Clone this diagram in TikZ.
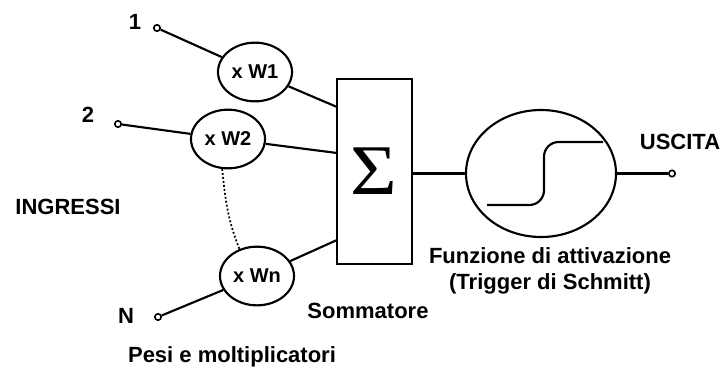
\documentclass[tikz,border=0pt]{standalone}
\usepackage{fontspec}
\setmainfont{Liberation Sans}
\newfontfamily\sigmafont{Liberation Serif}
\usetikzlibrary{shapes.geometric}
\tikzset{
  lbl/.style={font=\fontsize{16.5pt}{19.5pt}\selectfont\bfseries, inner sep=0pt, align=center},
  wlbl/.style={font=\fontsize{15pt}{18pt}\selectfont\bfseries},
  mult/.style={ellipse, draw, line width=1.6pt, minimum width=55.5pt, minimum height=44pt, inner sep=0pt, wlbl},
  term/.style={circle, draw, line width=1.2pt, fill=white, minimum size=4.8pt, inner sep=0pt},
  wire/.style={line width=1.6pt},
  sumbox/.style={rectangle, draw, line width=2pt, minimum width=56.25pt, minimum height=138.75pt, inner sep=0pt},
  actfun/.style={ellipse, draw, line width=1.6pt, minimum width=112.5pt, minimum height=95.25pt, inner sep=0pt}
}
\begin{document}
\begin{tikzpicture}[x=0.75pt, y=-0.75pt]
\useasboundingbox[fill=white] (0,0) rectangle (723,371);

% input terminals and their labels
\node[term] (t1) at (157,28) {};
\node[term] (t2) at (118,124) {};
\node[term] (tn) at (158,317) {};
\node[lbl] (l1) at (135,21.5) {1};
\node[lbl] (l2) at (88,114.5) {2};
\node[lbl] (ln) at (126,315.5) {N};
\node[lbl] (ingr) at (68,207) {INGRESSI};

% weight multipliers
\node[mult] (w1) at (255,72) {x W1};
\node[mult] (w2) at (228,139) {x W2};
\node[mult] (wn) at (257,276) {x Wn};

% summing block
\node[sumbox] (sum) at (374.5,171.5) {};
\node[inner sep=0pt] (sig) at (373.5,171.5) {\resizebox{35pt}{35pt}{\sigmafont Σ}};
\coordinate (s1) at (337,107);
\coordinate (s2) at (337,153);
\coordinate (sn) at (337,240);

% activation function
\node[actfun] (act) at (541,173.5) {};
\draw[line width=1.6pt, rounded corners=11pt] (487,205) -- (544,205) -- (544,142) -- (603,142);
\node[term] (out) at (672,173.5) {};
\node[lbl] (usc) at (680,142) {USCITA};

% connections
\draw[wire] (t1) -- (w1);
\draw[wire] (t2) -- (w2);
\draw[wire] (tn) -- (wn);
\draw[wire] (w1) -- (s1);
\draw[wire] (w2) -- (s2);
\draw[wire] (wn) -- (sn);
\draw[line width=1.3pt, dash pattern=on 1.4pt off 1.6pt] (w2.259) to[out=-84, in=112] (wn.123);
\draw[wire] (sum.east |- act.center) -- (act.west);
\draw[wire] (act.east) -- (out);

% captions
\node[lbl] (somm) at (368,311) {Sommatore};
\node[lbl] (pesi) at (232,357) {Pesi e moltiplicatori};
\node[lbl] (funz) at (550,271) {Funzione di attivazione\\(Trigger di Schmitt)};
\end{tikzpicture}
\end{document}
